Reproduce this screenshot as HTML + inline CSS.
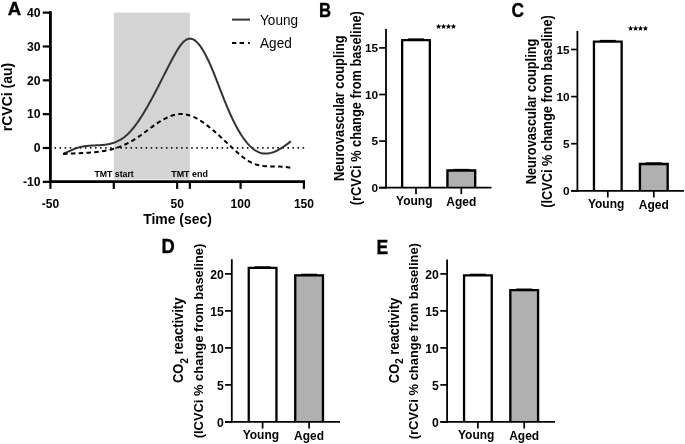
<!DOCTYPE html>
<html><head><meta charset="utf-8"><style>
html,body{margin:0;padding:0;background:#fff;width:685px;height:444px;overflow:hidden}
svg{display:block;will-change:transform}
text{font-family:"Liberation Sans", sans-serif;fill:#000}
</style></head><body>
<svg width="685" height="444" viewBox="0 0 685 444">
<rect width="685" height="444" fill="#fff"/>
<rect x="113.80" y="12.6" width="76.05" height="166.9" fill="#d4d4d4"/>
<line x1="54.55" y1="147.85" x2="304.2" y2="147.85" stroke="#111" stroke-width="1.9" stroke-dasharray="1.5,3.563"/>
<path d="M63.10,153.83 L64.10,153.44 L65.10,153.03 L66.10,152.60 L67.10,152.16 L68.10,151.71 L69.10,151.26 L70.10,150.80 L71.10,150.35 L72.10,149.91 L73.10,149.47 L74.10,149.06 L75.10,148.66 L76.10,148.28 L77.10,147.94 L78.10,147.62 L79.10,147.34 L80.10,147.08 L81.10,146.85 L82.10,146.64 L83.10,146.46 L84.10,146.29 L85.10,146.15 L86.10,146.02 L87.10,145.91 L88.10,145.82 L89.10,145.73 L90.10,145.66 L91.10,145.60 L92.10,145.54 L93.10,145.49 L94.10,145.44 L95.10,145.39 L96.10,145.35 L97.10,145.30 L98.10,145.25 L99.10,145.20 L100.10,145.14 L101.10,145.07 L102.10,144.99 L103.10,144.90 L104.10,144.79 L105.10,144.67 L106.10,144.54 L107.10,144.38 L108.10,144.20 L109.10,144.01 L110.10,143.78 L111.10,143.54 L112.10,143.26 L113.10,142.96 L114.10,142.63 L115.10,142.26 L116.10,141.86 L117.10,141.42 L118.10,140.95 L119.10,140.44 L120.10,139.88 L121.10,139.29 L122.10,138.64 L123.10,137.96 L124.10,137.22 L125.10,136.44 L126.10,135.60 L127.10,134.71 L128.10,133.77 L129.10,132.77 L130.10,131.72 L131.10,130.61 L132.10,129.46 L133.10,128.26 L134.10,127.01 L135.10,125.71 L136.10,124.37 L137.10,122.99 L138.10,121.57 L139.10,120.10 L140.10,118.60 L141.10,117.06 L142.10,115.49 L143.10,113.88 L144.10,112.24 L145.10,110.57 L146.10,108.87 L147.10,107.14 L148.10,105.38 L149.10,103.60 L150.10,101.80 L151.10,99.97 L152.10,98.12 L153.10,96.26 L154.10,94.37 L155.10,92.47 L156.10,90.55 L157.10,88.63 L158.10,86.68 L159.10,84.73 L160.10,82.77 L161.10,80.81 L162.10,78.84 L163.10,76.86 L164.10,74.89 L165.10,72.93 L166.10,70.96 L167.10,69.01 L168.10,67.06 L169.10,65.13 L170.10,63.22 L171.10,61.32 L172.10,59.44 L173.10,57.58 L174.10,55.75 L175.10,53.95 L176.10,52.20 L177.10,50.51 L178.10,48.88 L179.10,47.34 L180.10,45.90 L181.10,44.55 L182.10,43.32 L183.10,42.22 L184.10,41.25 L185.10,40.43 L186.10,39.76 L187.10,39.24 L188.10,38.88 L189.10,38.66 L190.10,38.61 L191.10,38.71 L192.10,38.96 L193.10,39.36 L194.10,39.91 L195.10,40.59 L196.10,41.40 L197.10,42.35 L198.10,43.42 L199.10,44.61 L200.10,45.92 L201.10,47.34 L202.10,48.86 L203.10,50.49 L204.10,52.22 L205.10,54.04 L206.10,55.96 L207.10,57.95 L208.10,60.03 L209.10,62.19 L210.10,64.41 L211.10,66.71 L212.10,69.06 L213.10,71.48 L214.10,73.94 L215.10,76.44 L216.10,78.98 L217.10,81.54 L218.10,84.12 L219.10,86.71 L220.10,89.30 L221.10,91.88 L222.10,94.45 L223.10,96.99 L224.10,99.51 L225.10,101.99 L226.10,104.43 L227.10,106.83 L228.10,109.19 L229.10,111.50 L230.10,113.76 L231.10,115.97 L232.10,118.13 L233.10,120.22 L234.10,122.26 L235.10,124.23 L236.10,126.13 L237.10,127.98 L238.10,129.76 L239.10,131.48 L240.10,133.13 L241.10,134.73 L242.10,136.25 L243.10,137.72 L244.10,139.12 L245.10,140.45 L246.10,141.72 L247.10,142.93 L248.10,144.07 L249.10,145.15 L250.10,146.16 L251.10,147.11 L252.10,148.00 L253.10,148.81 L254.10,149.57 L255.10,150.25 L256.10,150.88 L257.10,151.43 L258.10,151.92 L259.10,152.35 L260.10,152.71 L261.10,153.01 L262.10,153.24 L263.10,153.41 L264.10,153.53 L265.10,153.59 L266.10,153.59 L267.10,153.54 L268.10,153.44 L269.10,153.29 L270.10,153.10 L271.10,152.85 L272.10,152.57 L273.10,152.24 L274.10,151.87 L275.10,151.46 L276.10,151.01 L277.10,150.53 L278.10,150.01 L279.10,149.47 L280.10,148.89 L281.10,148.29 L282.10,147.66 L283.10,147.00 L284.10,146.33 L285.10,145.63 L286.10,144.91 L287.10,144.18 L288.10,143.43 L289.10,142.66 L290.10,141.89 L290.90,141.26" fill="none" stroke="#333" stroke-width="2"/>
<path d="M63.10,153.97 L64.10,153.90 L65.10,153.83 L66.10,153.77 L67.10,153.71 L68.10,153.65 L69.10,153.60 L70.10,153.55 L71.10,153.51 L72.10,153.46 L73.10,153.42 L74.10,153.38 L75.10,153.34 L76.10,153.30 L77.10,153.26 L78.10,153.22 L79.10,153.18 L80.10,153.13 L81.10,153.09 L82.10,153.05 L83.10,153.00 L84.10,152.95 L85.10,152.90 L86.10,152.85 L87.10,152.79 L88.10,152.73 L89.10,152.66 L90.10,152.59 L91.10,152.52 L92.10,152.44 L93.10,152.35 L94.10,152.26 L95.10,152.16 L96.10,152.06 L97.10,151.94 L98.10,151.82 L99.10,151.70 L100.10,151.56 L101.10,151.42 L102.10,151.27 L103.10,151.11 L104.10,150.93 L105.10,150.75 L106.10,150.56 L107.10,150.36 L108.10,150.15 L109.10,149.92 L110.10,149.69 L111.10,149.44 L112.10,149.18 L113.10,148.91 L114.10,148.62 L115.10,148.32 L116.10,148.01 L117.10,147.68 L118.10,147.33 L119.10,146.98 L120.10,146.60 L121.10,146.22 L122.10,145.81 L123.10,145.39 L124.10,144.95 L125.10,144.50 L126.10,144.03 L127.10,143.54 L128.10,143.03 L129.10,142.51 L130.10,141.98 L131.10,141.42 L132.10,140.85 L133.10,140.27 L134.10,139.66 L135.10,139.04 L136.10,138.41 L137.10,137.76 L138.10,137.09 L139.10,136.41 L140.10,135.71 L141.10,135.00 L142.10,134.27 L143.10,133.54 L144.10,132.80 L145.10,132.05 L146.10,131.30 L147.10,130.55 L148.10,129.79 L149.10,129.04 L150.10,128.30 L151.10,127.55 L152.10,126.82 L153.10,126.09 L154.10,125.38 L155.10,124.67 L156.10,123.98 L157.10,123.31 L158.10,122.65 L159.10,122.00 L160.10,121.37 L161.10,120.77 L162.10,120.18 L163.10,119.61 L164.10,119.06 L165.10,118.53 L166.10,118.03 L167.10,117.55 L168.10,117.10 L169.10,116.68 L170.10,116.28 L171.10,115.91 L172.10,115.57 L173.10,115.26 L174.10,114.99 L175.10,114.75 L176.10,114.54 L177.10,114.36 L178.10,114.22 L179.10,114.12 L180.10,114.06 L181.10,114.04 L182.10,114.06 L183.10,114.11 L184.10,114.21 L185.10,114.35 L186.10,114.52 L187.10,114.74 L188.10,114.98 L189.10,115.27 L190.10,115.58 L191.10,115.94 L192.10,116.32 L193.10,116.73 L194.10,117.18 L195.10,117.65 L196.10,118.16 L197.10,118.69 L198.10,119.25 L199.10,119.83 L200.10,120.44 L201.10,121.08 L202.10,121.74 L203.10,122.42 L204.10,123.12 L205.10,123.84 L206.10,124.58 L207.10,125.34 L208.10,126.12 L209.10,126.91 L210.10,127.72 L211.10,128.55 L212.10,129.39 L213.10,130.24 L214.10,131.10 L215.10,131.98 L216.10,132.86 L217.10,133.76 L218.10,134.66 L219.10,135.57 L220.10,136.49 L221.10,137.41 L222.10,138.34 L223.10,139.28 L224.10,140.21 L225.10,141.15 L226.10,142.09 L227.10,143.02 L228.10,143.96 L229.10,144.90 L230.10,145.83 L231.10,146.76 L232.10,147.69 L233.10,148.61 L234.10,149.52 L235.10,150.43 L236.10,151.32 L237.10,152.21 L238.10,153.09 L239.10,153.96 L240.10,154.81 L241.10,155.65 L242.10,156.46 L243.10,157.25 L244.10,158.02 L245.10,158.75 L246.10,159.46 L247.10,160.13 L248.10,160.77 L249.10,161.37 L250.10,161.92 L251.10,162.44 L252.10,162.91 L253.10,163.35 L254.10,163.75 L255.10,164.11 L256.10,164.44 L257.10,164.74 L258.10,165.01 L259.10,165.25 L260.10,165.46 L261.10,165.65 L262.10,165.81 L263.10,165.95 L264.10,166.08 L265.10,166.18 L266.10,166.26 L267.10,166.33 L268.10,166.39 L269.10,166.43 L270.10,166.47 L271.10,166.49 L272.10,166.51 L273.10,166.52 L274.10,166.53 L275.10,166.54 L276.10,166.55 L277.10,166.56 L278.10,166.58 L279.10,166.60 L280.10,166.62 L281.10,166.66 L282.10,166.71 L283.10,166.77 L284.10,166.84 L285.10,166.93 L286.10,167.04 L287.10,167.17 L288.10,167.32 L289.10,167.49 L290.10,167.69 L290.40,167.75" fill="none" stroke="#000" stroke-width="2" stroke-dasharray="4.5,3.3"/>
<line x1="50.4" y1="11.2" x2="50.4" y2="182.9" stroke="#000" stroke-width="2.8"/>
<line x1="49" y1="181.6" x2="305.1" y2="181.6" stroke="#000" stroke-width="2.6"/>
<line x1="42.8" y1="12.64" x2="50" y2="12.64" stroke="#000" stroke-width="2.2"/>
<text transform="translate(40.60,16.84)" font-size="12.20" font-weight="bold" text-anchor="end">40</text>
<line x1="42.8" y1="46.48" x2="50" y2="46.48" stroke="#000" stroke-width="2.2"/>
<text transform="translate(40.60,50.68)" font-size="12.20" font-weight="bold" text-anchor="end">30</text>
<line x1="42.8" y1="80.32" x2="50" y2="80.32" stroke="#000" stroke-width="2.2"/>
<text transform="translate(40.60,84.52)" font-size="12.20" font-weight="bold" text-anchor="end">20</text>
<line x1="42.8" y1="114.16" x2="50" y2="114.16" stroke="#000" stroke-width="2.2"/>
<text transform="translate(40.60,118.36)" font-size="12.20" font-weight="bold" text-anchor="end">10</text>
<line x1="42.8" y1="148.00" x2="50" y2="148.00" stroke="#000" stroke-width="2.2"/>
<text transform="translate(40.60,152.20)" font-size="12.20" font-weight="bold" text-anchor="end">0</text>
<line x1="42.8" y1="181.84" x2="50" y2="181.84" stroke="#000" stroke-width="2.2"/>
<text transform="translate(40.60,186.04)" font-size="12.20" font-weight="bold" text-anchor="end">-10</text>
<line x1="50.42" y1="181" x2="50.42" y2="188.9" stroke="#000" stroke-width="2.2"/>
<line x1="113.80" y1="181" x2="113.80" y2="188.9" stroke="#000" stroke-width="2.2"/>
<line x1="177.18" y1="181" x2="177.18" y2="188.9" stroke="#000" stroke-width="2.2"/>
<line x1="189.85" y1="181" x2="189.85" y2="188.9" stroke="#000" stroke-width="2.2"/>
<line x1="240.55" y1="181" x2="240.55" y2="188.9" stroke="#000" stroke-width="2.2"/>
<line x1="303.93" y1="181" x2="303.93" y2="188.9" stroke="#000" stroke-width="2.2"/>
<text transform="translate(50.42,207.60)" font-size="12.00" font-weight="bold" text-anchor="middle">-50</text>
<text transform="translate(177.18,207.60)" font-size="12.00" font-weight="bold" text-anchor="middle">50</text>
<text transform="translate(240.55,207.60)" font-size="12.00" font-weight="bold" text-anchor="middle">100</text>
<text transform="translate(303.93,207.60)" font-size="12.00" font-weight="bold" text-anchor="middle">150</text>
<text transform="translate(177.50,224.20) scale(1.000,1.030)" font-size="13.95" font-weight="bold" text-anchor="middle">Time (sec)</text>
<text transform="translate(11.80,97.00) rotate(-90)" font-size="14.00" font-weight="bold" text-anchor="middle">rCVCi (au)</text>
<text transform="translate(94.40,176.80) scale(1.000,1.070)" font-size="8.75" font-weight="bold">TMT start</text>
<text transform="translate(171.20,176.80) scale(1.000,1.070)" font-size="8.95" font-weight="bold">TMT end</text>
<line x1="232" y1="19.6" x2="250" y2="19.6" stroke="#333" stroke-width="2"/>
<path d="M232,43 H236.3 M239.6,43 H244.1 M248.1,43 H249.8" stroke="#000" stroke-width="2" fill="none"/>
<text transform="translate(260.00,25.30) scale(1.000,1.050)" font-size="13.60" fill="#111">Young</text>
<text transform="translate(260.00,47.80) scale(1.000,1.050)" font-size="13.60" fill="#111">Aged</text>
<text transform="translate(7.70,14.90) scale(0.970,1.000)" font-size="19.20" font-weight="bold" stroke="#000" stroke-width="0.4">A</text>
<rect x="401.00" y="38.88" width="30" height="148.82" fill="#fff"/>
<path d="M402.15,187.70 V40.03 H429.85 V187.70" fill="none" stroke="#000" stroke-width="2.30"/>
<line x1="408.00" y1="39.08" x2="424.00" y2="39.08" stroke="#000" stroke-width="1.4"/>
<rect x="446.30" y="169.36" width="30" height="18.34" fill="#b0b0b0"/>
<path d="M447.45,187.70 V170.51 H475.15 V187.70" fill="none" stroke="#000" stroke-width="2.30"/>
<line x1="453.30" y1="169.56" x2="469.30" y2="169.56" stroke="#000" stroke-width="1.4"/>
<line x1="386.00" y1="29.00" x2="386.00" y2="188.60" stroke="#000" stroke-width="1.8"/>
<line x1="379.20" y1="187.70" x2="491.50" y2="187.70" stroke="#000" stroke-width="1.8"/>
<line x1="379.20" y1="187.70" x2="386.00" y2="187.70" stroke="#000" stroke-width="1.7"/>
<text transform="translate(378.00,191.77)" font-size="11.80" font-weight="bold" text-anchor="end">0</text>
<line x1="379.20" y1="141.10" x2="386.00" y2="141.10" stroke="#000" stroke-width="1.7"/>
<text transform="translate(378.00,145.17)" font-size="11.80" font-weight="bold" text-anchor="end">5</text>
<line x1="379.20" y1="94.50" x2="386.00" y2="94.50" stroke="#000" stroke-width="1.7"/>
<text transform="translate(378.00,98.57)" font-size="11.80" font-weight="bold" text-anchor="end">10</text>
<line x1="379.20" y1="47.90" x2="386.00" y2="47.90" stroke="#000" stroke-width="1.7"/>
<text transform="translate(378.00,51.97)" font-size="11.80" font-weight="bold" text-anchor="end">15</text>
<line x1="416.00" y1="187.70" x2="416.00" y2="194.20" stroke="#000" stroke-width="1.7"/>
<text transform="translate(414.30,204.50) scale(1.000,1.094)" font-size="12.00" font-weight="bold" text-anchor="middle">Young</text>
<line x1="461.30" y1="187.70" x2="461.30" y2="194.20" stroke="#000" stroke-width="1.7"/>
<text transform="translate(461.30,205.60) scale(1.000,1.094)" font-size="12.00" font-weight="bold" text-anchor="middle">Aged</text>
<text transform="translate(344.40,108.20) rotate(-90) scale(1.000,1.100)" font-size="12.80" font-weight="bold" text-anchor="middle">Neurovascular coupling</text>
<text transform="translate(360.60,108.20) rotate(-90) scale(1.000,1.080)" font-size="12.80" font-weight="bold" text-anchor="middle">(rCVCi % change from baseline)</text>
<polygon points="438.60,23.70 439.33,25.59 441.36,25.70 439.79,26.99 440.30,28.95 438.60,27.85 436.90,28.95 437.41,26.99 435.84,25.70 437.87,25.59" fill="#000"/>
<polygon points="443.55,23.70 444.28,25.59 446.31,25.70 444.74,26.99 445.25,28.95 443.55,27.85 441.85,28.95 442.36,26.99 440.79,25.70 442.82,25.59" fill="#000"/>
<polygon points="448.50,23.70 449.23,25.59 451.26,25.70 449.69,26.99 450.20,28.95 448.50,27.85 446.80,28.95 447.31,26.99 445.74,25.70 447.77,25.59" fill="#000"/>
<polygon points="453.45,23.70 454.18,25.59 456.21,25.70 454.64,26.99 455.15,28.95 453.45,27.85 451.75,28.95 452.26,26.99 450.69,25.70 452.72,25.59" fill="#000"/>
<text transform="translate(319.00,17.30) scale(0.820,1.000)" font-size="20.40" font-weight="bold" stroke="#000" stroke-width="0.35">B</text>
<rect x="592.80" y="40.38" width="30" height="150.42" fill="#fff"/>
<path d="M593.95,190.80 V41.53 H621.65 V190.80" fill="none" stroke="#000" stroke-width="2.30"/>
<line x1="599.80" y1="40.58" x2="615.80" y2="40.58" stroke="#000" stroke-width="1.4"/>
<rect x="638.80" y="162.84" width="30" height="27.96" fill="#b0b0b0"/>
<path d="M639.95,190.80 V163.99 H667.65 V190.80" fill="none" stroke="#000" stroke-width="2.30"/>
<line x1="645.80" y1="163.04" x2="661.80" y2="163.04" stroke="#000" stroke-width="1.4"/>
<line x1="577.40" y1="31.00" x2="577.40" y2="191.70" stroke="#000" stroke-width="1.8"/>
<line x1="571.10" y1="190.80" x2="684.00" y2="190.80" stroke="#000" stroke-width="1.8"/>
<line x1="571.10" y1="190.80" x2="577.40" y2="190.80" stroke="#000" stroke-width="1.7"/>
<text transform="translate(569.60,194.87)" font-size="11.80" font-weight="bold" text-anchor="end">0</text>
<line x1="571.10" y1="143.70" x2="577.40" y2="143.70" stroke="#000" stroke-width="1.7"/>
<text transform="translate(569.60,147.77)" font-size="11.80" font-weight="bold" text-anchor="end">5</text>
<line x1="571.10" y1="96.60" x2="577.40" y2="96.60" stroke="#000" stroke-width="1.7"/>
<text transform="translate(569.60,100.67)" font-size="11.80" font-weight="bold" text-anchor="end">10</text>
<line x1="571.10" y1="49.50" x2="577.40" y2="49.50" stroke="#000" stroke-width="1.7"/>
<text transform="translate(569.60,53.57)" font-size="11.80" font-weight="bold" text-anchor="end">15</text>
<line x1="607.80" y1="190.80" x2="607.80" y2="197.50" stroke="#000" stroke-width="1.7"/>
<text transform="translate(606.10,207.80) scale(1.000,1.094)" font-size="12.00" font-weight="bold" text-anchor="middle">Young</text>
<line x1="653.80" y1="190.80" x2="653.80" y2="197.50" stroke="#000" stroke-width="1.7"/>
<text transform="translate(653.80,208.90) scale(1.000,1.094)" font-size="12.00" font-weight="bold" text-anchor="middle">Aged</text>
<text transform="translate(536.00,111.50) rotate(-90) scale(1.000,1.100)" font-size="12.80" font-weight="bold" text-anchor="middle">Neurovascular coupling</text>
<text transform="translate(551.90,111.50) rotate(-90) scale(1.000,1.080)" font-size="12.80" font-weight="bold" text-anchor="middle">(lCVCi % change from baseline)</text>
<polygon points="630.60,25.50 631.33,27.39 633.36,27.50 631.79,28.79 632.30,30.75 630.60,29.65 628.90,30.75 629.41,28.79 627.84,27.50 629.87,27.39" fill="#000"/>
<polygon points="635.55,25.50 636.28,27.39 638.31,27.50 636.74,28.79 637.25,30.75 635.55,29.65 633.85,30.75 634.36,28.79 632.79,27.50 634.82,27.39" fill="#000"/>
<polygon points="640.50,25.50 641.23,27.39 643.26,27.50 641.69,28.79 642.20,30.75 640.50,29.65 638.80,30.75 639.31,28.79 637.74,27.50 639.77,27.39" fill="#000"/>
<polygon points="645.45,25.50 646.18,27.39 648.21,27.50 646.64,28.79 647.15,30.75 645.45,29.65 643.75,30.75 644.26,28.79 642.69,27.50 644.72,27.39" fill="#000"/>
<text transform="translate(511.60,17.40) scale(0.850,1.000)" font-size="20.40" font-weight="bold" stroke="#000" stroke-width="0.35">C</text>
<rect x="247.60" y="266.80" width="30" height="155.10" fill="#fff"/>
<path d="M248.75,421.90 V267.95 H276.45 V421.90" fill="none" stroke="#000" stroke-width="2.30"/>
<line x1="254.60" y1="267.00" x2="270.60" y2="267.00" stroke="#000" stroke-width="1.4"/>
<rect x="294.10" y="274.20" width="30" height="147.70" fill="#b0b0b0"/>
<path d="M295.25,421.90 V275.35 H322.95 V421.90" fill="none" stroke="#000" stroke-width="2.30"/>
<line x1="301.10" y1="274.40" x2="317.10" y2="274.40" stroke="#000" stroke-width="1.4"/>
<line x1="231.80" y1="259.20" x2="231.80" y2="422.80" stroke="#000" stroke-width="1.8"/>
<line x1="225.00" y1="421.90" x2="340.00" y2="421.90" stroke="#000" stroke-width="1.8"/>
<line x1="225.00" y1="421.90" x2="231.80" y2="421.90" stroke="#000" stroke-width="1.7"/>
<text transform="translate(223.70,426.51)" font-size="12.20" font-weight="bold" text-anchor="end">0</text>
<line x1="225.00" y1="384.90" x2="231.80" y2="384.90" stroke="#000" stroke-width="1.7"/>
<text transform="translate(223.70,389.51)" font-size="12.20" font-weight="bold" text-anchor="end">5</text>
<line x1="225.00" y1="347.90" x2="231.80" y2="347.90" stroke="#000" stroke-width="1.7"/>
<text transform="translate(223.70,352.51)" font-size="12.20" font-weight="bold" text-anchor="end">10</text>
<line x1="225.00" y1="310.90" x2="231.80" y2="310.90" stroke="#000" stroke-width="1.7"/>
<text transform="translate(223.70,315.51)" font-size="12.20" font-weight="bold" text-anchor="end">15</text>
<line x1="225.00" y1="273.90" x2="231.80" y2="273.90" stroke="#000" stroke-width="1.7"/>
<text transform="translate(223.70,278.51)" font-size="12.20" font-weight="bold" text-anchor="end">20</text>
<line x1="262.60" y1="421.90" x2="262.60" y2="428.60" stroke="#000" stroke-width="1.7"/>
<text transform="translate(260.90,438.90) scale(1.000,1.094)" font-size="12.00" font-weight="bold" text-anchor="middle">Young</text>
<line x1="309.10" y1="421.90" x2="309.10" y2="428.60" stroke="#000" stroke-width="1.7"/>
<text transform="translate(309.10,440.00) scale(1.000,1.094)" font-size="12.00" font-weight="bold" text-anchor="middle">Aged</text>
<text transform="translate(183.20,340.30) rotate(-90) scale(1.000,1.100)" font-size="12.95" font-weight="bold" text-anchor="middle">CO<tspan font-size="0.76em" dy="4.1">2</tspan><tspan dy="-4.1"> reactivity</tspan></text>
<text transform="translate(202.80,341.00) rotate(-90) scale(1.000,1.030)" font-size="12.95" font-weight="bold" text-anchor="middle">(lCVCi % change from baseline)</text>
<text transform="translate(161.40,253.40) scale(0.900,1.000)" font-size="20.40" font-weight="bold" stroke="#000" stroke-width="0.35">D</text>
<rect x="462.90" y="274.20" width="30" height="147.70" fill="#fff"/>
<path d="M464.05,421.90 V275.35 H491.75 V421.90" fill="none" stroke="#000" stroke-width="2.30"/>
<line x1="469.90" y1="274.40" x2="485.90" y2="274.40" stroke="#000" stroke-width="1.4"/>
<rect x="509.20" y="289.00" width="30" height="132.90" fill="#b0b0b0"/>
<path d="M510.35,421.90 V290.15 H538.05 V421.90" fill="none" stroke="#000" stroke-width="2.30"/>
<line x1="516.20" y1="289.20" x2="532.20" y2="289.20" stroke="#000" stroke-width="1.4"/>
<line x1="447.10" y1="259.60" x2="447.10" y2="422.80" stroke="#000" stroke-width="1.8"/>
<line x1="440.30" y1="421.90" x2="555.00" y2="421.90" stroke="#000" stroke-width="1.8"/>
<line x1="440.30" y1="421.90" x2="447.10" y2="421.90" stroke="#000" stroke-width="1.7"/>
<text transform="translate(438.90,426.51)" font-size="12.20" font-weight="bold" text-anchor="end">0</text>
<line x1="440.30" y1="384.90" x2="447.10" y2="384.90" stroke="#000" stroke-width="1.7"/>
<text transform="translate(438.90,389.51)" font-size="12.20" font-weight="bold" text-anchor="end">5</text>
<line x1="440.30" y1="347.90" x2="447.10" y2="347.90" stroke="#000" stroke-width="1.7"/>
<text transform="translate(438.90,352.51)" font-size="12.20" font-weight="bold" text-anchor="end">10</text>
<line x1="440.30" y1="310.90" x2="447.10" y2="310.90" stroke="#000" stroke-width="1.7"/>
<text transform="translate(438.90,315.51)" font-size="12.20" font-weight="bold" text-anchor="end">15</text>
<line x1="440.30" y1="273.90" x2="447.10" y2="273.90" stroke="#000" stroke-width="1.7"/>
<text transform="translate(438.90,278.51)" font-size="12.20" font-weight="bold" text-anchor="end">20</text>
<line x1="477.90" y1="421.90" x2="477.90" y2="428.60" stroke="#000" stroke-width="1.7"/>
<text transform="translate(476.20,438.90) scale(1.000,1.094)" font-size="12.00" font-weight="bold" text-anchor="middle">Young</text>
<line x1="524.20" y1="421.90" x2="524.20" y2="428.60" stroke="#000" stroke-width="1.7"/>
<text transform="translate(524.20,440.00) scale(1.000,1.094)" font-size="12.00" font-weight="bold" text-anchor="middle">Aged</text>
<text transform="translate(398.50,340.50) rotate(-90) scale(1.000,1.100)" font-size="12.95" font-weight="bold" text-anchor="middle">CO<tspan font-size="0.76em" dy="4.1">2</tspan><tspan dy="-4.1"> reactivity</tspan></text>
<text transform="translate(418.10,341.20) rotate(-90) scale(1.000,1.030)" font-size="12.95" font-weight="bold" text-anchor="middle">(rCVCi % change from baseline)</text>
<text transform="translate(376.40,253.50) scale(0.860,1.000)" font-size="20.40" font-weight="bold" stroke="#000" stroke-width="0.35">E</text>
</svg>
</body></html>
